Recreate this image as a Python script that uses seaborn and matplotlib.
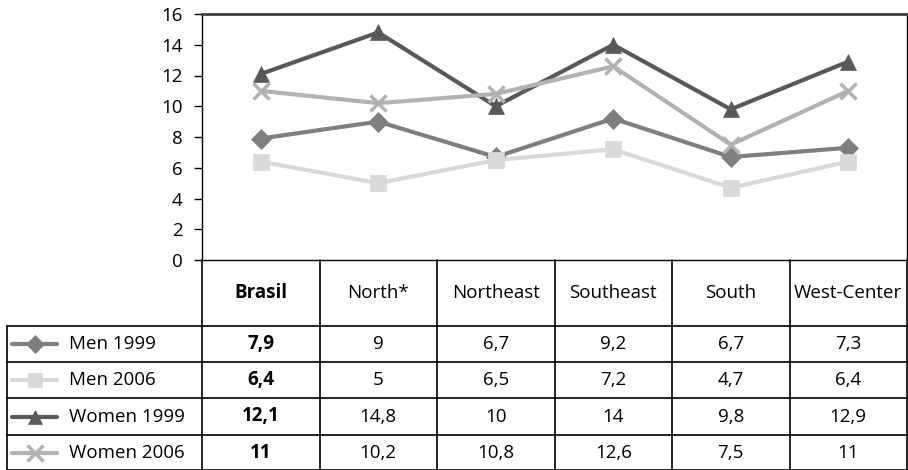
import pandas as pd
import matplotlib.pyplot as plt
import seaborn as sns
from matplotlib.lines import Line2D

regions = ["Brasil", "North*", "Northeast", "Southeast", "South", "West-Center"]
series = ["Men 1999", "Men 2006", "Women 1999", "Women 2006"]
men_1999 = [7.9, 9, 6.7, 9.2, 6.7, 7.3]
men_2006 = [6.4, 5, 6.5, 7.2, 4.7, 6.4]
women_1999 = [12.1, 14.8, 10, 14, 9.8, 12.9]
women_2006 = [11, 10.2, 10.8, 12.6, 7.5, 11]
yticks = [0, 2, 4, 6, 8, 10, 12, 14, 16]

values = [men_1999, men_2006, women_1999, women_2006]
colors = ["#7f7f7f", "#d9d9d9", "#595959", "#b2b2b2"]
markers = ["D", "s", "^", "x"]
msizes = [10, 11, 11, 12]

sns.set_style("white")
plt.rcParams["font.family"] = ["Open Sans", "DejaVu Sans"]
plt.rcParams["text.color"] = "black"
plt.rcParams["ytick.color"] = "black"
FS = 13.5

W, H = 908, 470
fig = plt.figure(figsize=(W / 100, H / 100), dpi=100)

# table axes in pixel coordinates
axt = fig.add_axes([0, 0, 1, 1])
axt.set_xlim(0, W)
axt.set_ylim(H, 0)
axt.axis("off")

x_left, x_ax, x_right = 7, 202, 907
y_top, y_ax, y_hdr = 14, 260, 326
row_y = [326, 362, 398, 435, 470]
col_w = (x_right - x_ax) / len(regions)
col_x = [x_ax + i * col_w for i in range(len(regions) + 1)]

# line chart axes
ax = fig.add_axes([x_ax / W, 1 - y_ax / H, (x_right - x_ax) / W, (y_ax - y_top) / H])
df = pd.DataFrame({"region": regions * len(series),
                   "pos": list(range(len(regions))) * len(series),
                   "series": [s for s in series for _ in regions],
                   "value": [v for vals in values for v in vals]})
for s, c, m, ms in zip(series, colors, markers, msizes):
    sub = df[df["series"] == s]
    sns.lineplot(data=sub, x="pos", y="value", ax=ax, color=c, linewidth=3,
                 marker=m, markersize=ms, markeredgecolor=c,
                 markeredgewidth=2.5 if m == "x" else 0.5, legend=False)
ax.set_xlim(-0.5, len(regions) - 0.5)
ax.set_ylim(0, 16)
ax.set_yticks(yticks)
ax.set_yticklabels([str(t) for t in yticks], fontsize=FS)
ax.set_xticks([])
ax.set_xlabel("")
ax.set_ylabel("")
ax.tick_params(axis="y", left=True, length=6, width=1, color="black",
               labelcolor="black", pad=8)
for side in ["left", "bottom", "right"]:
    ax.spines[side].set_color("black")
    ax.spines[side].set_linewidth(1)
ax.spines["top"].set_color("#404040")
ax.spines["top"].set_linewidth(2)
ax.set_facecolor("none")

lc = "black"
lw = 1.2
# header row vertical lines
for x in col_x:
    axt.plot([x, x], [y_ax, y_hdr], color=lc, lw=lw)
# data rows horizontal lines
for y in row_y:
    axt.plot([x_left, x_right], [y, y], color=lc, lw=lw)
# data rows vertical lines
for x in [x_left] + col_x:
    axt.plot([x, x], [y_hdr, H], color=lc, lw=lw)

hdr_c = (y_ax + y_hdr) / 2
for i, r in enumerate(regions):
    axt.text((col_x[i] + col_x[i + 1]) / 2, hdr_c, r, ha="center", va="center",
             fontsize=FS, fontweight="bold" if i == 0 else "normal")

for j, (s, c, m, ms, vals) in enumerate(zip(series, colors, markers, msizes, values)):
    yc = (row_y[j] + row_y[j + 1]) / 2
    axt.add_line(Line2D([12, 57], [yc, yc], color=c, lw=3))
    axt.add_line(Line2D([35], [yc], color=c, marker=m, markersize=ms - 1,
                        markeredgecolor=c, markeredgewidth=2.5 if m == "x" else 0.5))
    axt.text(69, yc, s, ha="left", va="center", fontsize=FS)
    for i, v in enumerate(vals):
        axt.text((col_x[i] + col_x[i + 1]) / 2, yc, str(v).replace(".", ","),
                 ha="center", va="center", fontsize=FS,
                 fontweight="bold" if i == 0 else "normal")

fig.savefig("out.png", dpi=100)
